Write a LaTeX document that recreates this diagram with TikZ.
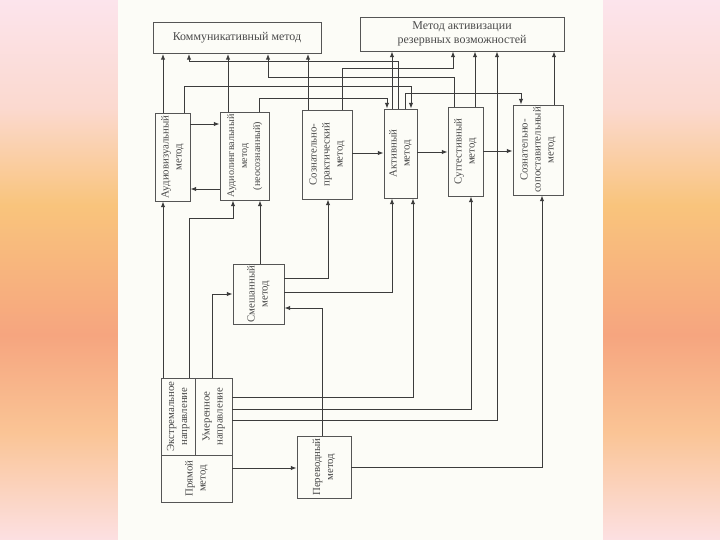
\documentclass[tikz,border=0pt]{standalone}
\usepackage{fontspec}
\setmainfont{Liberation Serif}
\usepackage{graphicx}
\usetikzlibrary{arrows.meta}

\definecolor{linegray}{HTML}{3C3C3C}
\definecolor{boxgray}{HTML}{555555}
\definecolor{txtgray}{HTML}{4A4A4A}
\definecolor{paper}{HTML}{FCFCF7}
\definecolor{stripA}{HTML}{FCE0E2}
\definecolor{stripB}{HTML}{FAC495}
\definecolor{stripC}{HTML}{F6A57F}
\definecolor{stripD}{HTML}{F9C47C}
\definecolor{stripE}{HTML}{FBD9CF}
\definecolor{stripF}{HTML}{FCE4EC}
\pgfdeclareverticalshading{sidestrip}{100bp}{color(0bp)=(stripA); color(25bp)=(stripA); color(35bp)=(stripB); color(44bp)=(stripC); color(56bp)=(stripD); color(65bp)=(stripE); color(75bp)=(stripF); color(100bp)=(stripF)}

\newcommand{\vtxt}[1]{\rotatebox{90}{\begin{tabular}{@{}c@{}}#1\end{tabular}}}

\begin{document}
\begin{tikzpicture}[
    x=0.25mm, y=-0.25mm,
    box/.style={
      draw=boxgray,
      line width=0.6pt,
      inner sep=0pt,
      align=center,
      text=txtgray,
      font=\fontsize{8.5}{10}\selectfont
    },
    vbox/.style={box, font=\fontsize{7.7}{9.2}\selectfont},
    link/.style={draw=linegray, line width=0.6pt},
    >={Latex[length=4pt,width=3pt]}
  ]
    \useasboundingbox (0,0) rectangle (720,540);
    \shade[shading=sidestrip] (0,0) rectangle (118,540);
    \shade[shading=sidestrip] (603,0) rectangle (720,540);
    \fill[paper] (118,0) rectangle (603,540);

    \node[box, minimum width=42mm, minimum height=7.75mm] (komm) at (237,38) {Коммуникативный метод};
    \node[box, minimum width=51mm, minimum height=8.5mm] (mar) at (462,34) {Метод активизации\\резервных возможностей};

    \node[vbox, minimum width=8.75mm, minimum height=22mm] (avm) at (172.5,157) {\vtxt{Аудиовизуальный\\метод}};
    \node[vbox, font=\fontsize{7.2}{9.2}\selectfont, minimum width=12.25mm, minimum height=22mm] (alm) at (244.5,156) {\vtxt{Аудиолингвальный\\метод\\(неосознанный)}};
    \node[vbox, minimum width=12.5mm, minimum height=22.25mm] (spm) at (327,154.5) {\vtxt{Сознательно-\\практический\\метод}};
    \node[vbox, minimum width=8.25mm, minimum height=22.25mm] (act) at (400.5,153.5) {\vtxt{Активный\\метод}};
    \node[vbox, minimum width=8.75mm, minimum height=22.25mm] (sug) at (465.5,151.5) {\vtxt{Суггестивный\\метод}};
    \node[vbox, minimum width=12.5mm, minimum height=22.5mm] (ssm) at (538,150) {\vtxt{Сознательно-\\сопоставительный\\метод}};

    \node[vbox, minimum width=12.75mm, minimum height=15mm] (smes) at (258.5,294) {\vtxt{Смешанный\\метод}};

    \node[vbox, minimum width=8.5mm, minimum height=19.25mm] (ext) at (178,416.5) {\vtxt{Экстремальное\\направление}};
    \node[vbox, minimum width=9.25mm, minimum height=19.25mm] (umer) at (213.5,416.5) {\vtxt{Умеренное\\направление}};
    \node[vbox, minimum width=17.75mm, minimum height=11.75mm] (pryam) at (196.5,478.5) {\vtxt{Прямой\\метод}};
    \node[vbox, minimum width=13.5mm, minimum height=15.5mm] (perev) at (324,467) {\vtxt{Переводный\\метод}};

    \draw[link, ->] (avm.north -| 163,0) -- (komm.south -| 163,0);
    \draw[link, ->] (alm.north -| 228,0) -- (komm.south -| 228,0);
    \draw[link, ->] (spm.north -| 308,0) -- (komm.south -| 308,0);
    \draw[link, ->] (act.north -| 398,0) -- (398,61) -- (189,61) -- (komm.south -| 189,0);
    \draw[link, ->] (sug.north -| 454,0) -- (454,77) -- (268,77) -- (komm.south -| 268,0);

    \draw[link, ->] (act.north -| 392,0) -- (mar.south -| 392,0);
    \draw[link, ->] (spm.north -| 342,0) -- (342,68) -- (453,68) -- (mar.south -| 453,0);
    \draw[link, ->] (sug.north -| 475,0) -- (mar.south -| 475,0);
    \draw[link, ->] (umer.east |- 0,420) -- (497,420) -- (mar.south -| 497,0);
    \draw[link, ->] (ssm.north -| 554,0) -- (mar.south -| 554,0);

    \draw[link, ->] (avm.north -| 184,0) -- (184,86) -- (411,86) -- (act.north -| 411,0);
    \draw[link, ->] (alm.north -| 259,0) -- (259,98) -- (387,98) -- (act.north -| 387,0);
    \draw[link, ->] (act.north -| 405,0) -- (405,93) -- (521,93) -- (ssm.north -| 521,0);

    \draw[link, ->] (avm.east |- 0,124) -- (alm.west |- 0,124);
    \draw[link, ->] (alm.west |- 0,189) -- (avm.east |- 0,189);
    \draw[link, ->] (spm.east |- 0,153) -- (act.west |- 0,153);
    \draw[link, ->] (act.east |- 0,152) -- (sug.west |- 0,152);
    \draw[link, ->] (sug.east |- 0,151) -- (ssm.west |- 0,151);

    \draw[link, ->] (ext.north -| 163,0) -- (avm.south -| 163,0);
    \draw[link, ->] (ext.north -| 189,0) -- (189,218) -- (233,218) -- (alm.south -| 233,0);
    \draw[link, ->] (umer.north -| 212,0) -- (212,294) -- (smes.west |- 0,294);
    \draw[link, ->] (smes.north -| 260,0) -- (alm.south -| 260,0);
    \draw[link, ->] (smes.east |- 0,278) -- (328,278) -- (spm.south -| 328,0);
    \draw[link, ->] (smes.east |- 0,292) -- (392,292) -- (act.south -| 392,0);
    \draw[link, ->] (perev.north -| 322,0) -- (322,308) -- (smes.east |- 0,308);
    \draw[link, ->] (umer.east |- 0,397) -- (413,397) -- (act.south -| 413,0);
    \draw[link, ->] (umer.east |- 0,409) -- (471,409) -- (sug.south -| 471,0);
    \draw[link, ->] (pryam.east |- 0,468) -- (perev.west |- 0,468);
    \draw[link, ->] (perev.east |- 0,467) -- (542,467) -- (ssm.south -| 542,0);
  \end{tikzpicture}
\end{document}
